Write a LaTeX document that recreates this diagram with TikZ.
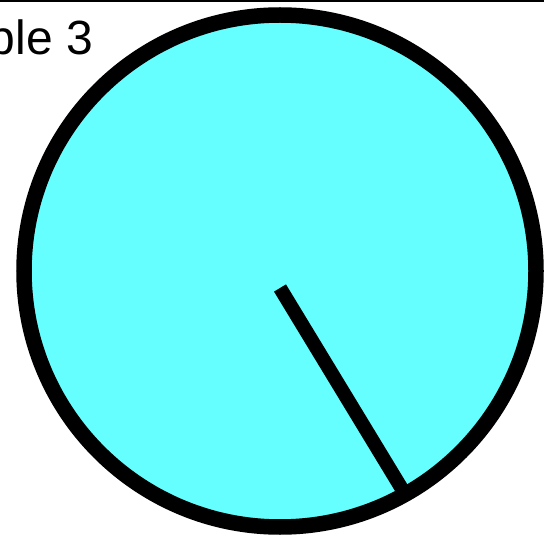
\documentclass[tikz,border=0pt]{standalone}
\usepackage{fontspec}
\setmainfont{Liberation Sans}
\definecolor{dialcyan}{RGB}{102,255,255}
\begin{document}
\begin{tikzpicture}[x=1pt,y=-1pt,
  dial/.style={circle,draw,fill=dialcyan,line width=15.5pt,minimum size=512pt,inner sep=0pt},
  hand/.style={line width=14pt,line cap=butt},
  title/.style={font=\fontsize{48}{58}\selectfont,inner sep=0pt}]
\useasboundingbox (0,0) rectangle (544,540);
\clip (0,0) rectangle (544,540);
\draw[line width=2pt] (0,1) -- (544,1); % top rule
\node[title,anchor=base east] (title) at (93,55) {Example 3};
\node[dial] (dial) at (280,271) {};
% clock hand
\coordinate (pivot) at (280,288);
\coordinate (tip) at (405,494);
\draw[hand] (pivot) -- (tip);
\end{tikzpicture}
\end{document}
